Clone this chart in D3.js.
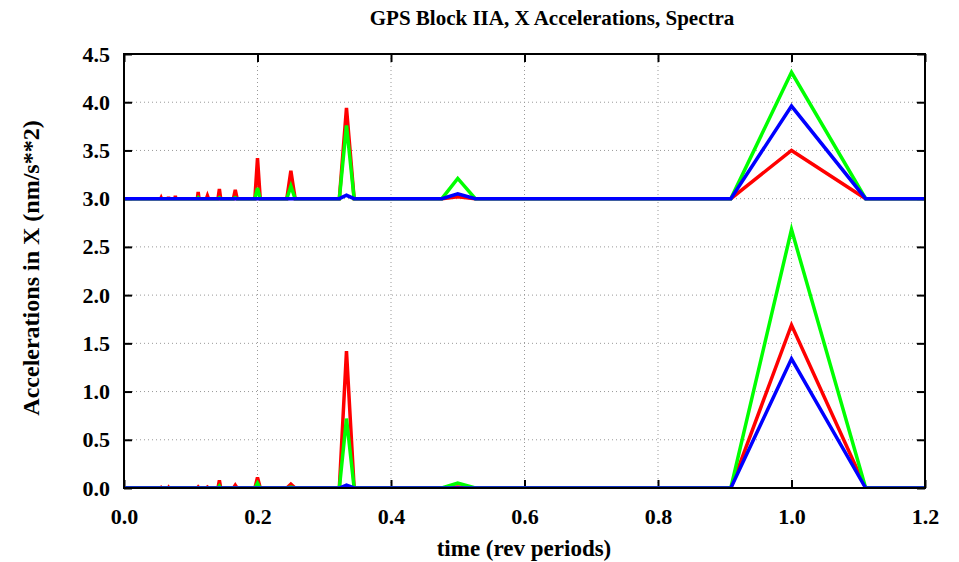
<!DOCTYPE html>
<html>
<head>
<meta charset="utf-8">
<script src="https://cdn.jsdelivr.net/npm/d3@7"></script>
<style>
	body { margin: 0; background: #fff; }
	text { font-family: "Liberation Serif", "Times New Roman", serif; font-weight: bold; fill: #000; }
</style>
</head>
<body>
<div id="chart"></div>
<script>
/*global d3*/

// periods (rev) of the spectral samples: harmonic peaks and their neighbours
const periods = [0.0, 0.0549, 0.0556, 0.0562, 0.0662, 0.0667, 0.0671, 0.0763, 0.0769, 0.0775,
	0.1099, 0.1111, 0.1124, 0.1235, 0.125, 0.1266, 0.1408, 0.1429, 0.1449,
	0.1639, 0.1667, 0.1695, 0.1961, 0.2, 0.2041, 0.2439, 0.25, 0.2564,
	0.3226, 0.3333, 0.3448, 0.4762, 0.5, 0.5263, 0.9091, 1.0, 1.1111, 1.25];

// upper spectra (drawn shifted by topOffset)
const topOffset = 3.0;
const topRed   = [0, 0, 0.01, 0, 0, 0.02, 0, 0, 0.03, 0, 0, 0.07, 0, 0, 0.03, 0, 0, 0.10, 0,
	0, 0.09, 0, 0, 0.42, 0, 0, 0.29, 0, 0, 0.94, 0, 0, 0.02, 0, 0, 0.50, 0, 0];
const topGreen = [0, 0, 0, 0, 0, 0, 0, 0, 0, 0, 0, 0.01, 0, 0, 0, 0, 0, 0.01, 0,
	0, 0.01, 0, 0, 0.11, 0, 0, 0.13, 0, 0, 0.76, 0, 0, 0.21, 0, 0, 1.31, 0, 0];
const topBlue  = [0, 0, 0, 0, 0, 0, 0, 0, 0, 0, 0, 0, 0, 0, 0, 0, 0, 0, 0,
	0, 0, 0, 0, 0, 0, 0, 0, 0, 0, 0.035, 0, 0, 0.05, 0, 0, 0.96, 0, 0];

// lower spectra
const botRed   = [0, 0, 0.005, 0, 0, 0.005, 0, 0, 0, 0, 0, 0.01, 0, 0, 0.01, 0, 0, 0.08, 0,
	0, 0.03, 0, 0, 0.11, 0, 0, 0.04, 0, 0, 1.42, 0, 0, 0.01, 0, 0, 1.69, 0, 0];
const botGreen = [0, 0, 0, 0, 0, 0, 0, 0, 0, 0, 0, 0, 0, 0, 0, 0, 0, 0.02, 0,
	0, 0, 0, 0, 0.05, 0, 0, 0.01, 0, 0, 0.72, 0, 0, 0.05, 0, 0, 2.68, 0, 0];
const botBlue  = [0, 0, 0, 0, 0, 0, 0, 0, 0, 0, 0, 0, 0, 0, 0, 0, 0, 0, 0,
	0, 0, 0, 0, 0, 0, 0, 0, 0, 0, 0.03, 0, 0, 0, 0, 0, 1.34, 0, 0];

const xTicks = [0.0, 0.2, 0.4, 0.6, 0.8, 1.0, 1.2];
const yTicks = [0.0, 0.5, 1.0, 1.5, 2.0, 2.5, 3.0, 3.5, 4.0, 4.5];

let margin = { top: 54, right: 34, bottom: 74, left: 124 },
	width = 959 - margin.left - margin.right,
	height = 562 - margin.top - margin.bottom;

let svg = d3.select("#chart")
	.append("svg")
	.attr("width", 959)
	.attr("height", 562);

let g = svg.append("g")
	.attr("transform", "translate(" + margin.left + "," + margin.top + ")");

let x = d3.scaleLinear().domain([0, 1.2]).range([0, width]);
let y = d3.scaleLinear().domain([0, 4.5]).range([height, 0]);

// grid
g.selectAll(".gx")
	.data(xTicks.slice(1, -1))
	.enter().append("line")
	.attr("x1", d => x(d)).attr("x2", d => x(d))
	.attr("y1", 0).attr("y2", height)
	.attr("stroke", "#999").attr("stroke-width", 1)
	.attr("stroke-dasharray", "1,3");

g.selectAll(".gy")
	.data(yTicks.slice(1, -1))
	.enter().append("line")
	.attr("x1", 0).attr("x2", width)
	.attr("y1", d => y(d)).attr("y2", d => y(d))
	.attr("stroke", "#999").attr("stroke-width", 1)
	.attr("stroke-dasharray", "1,3");

// axes with inward ticks, mirrored
let axisStyle = function (sel) {
	sel.select(".domain").remove();
	sel.selectAll(".tick line").attr("stroke", "#000").attr("stroke-width", 2);
	sel.selectAll(".tick text")
		.style("font-family", '"Liberation Serif", serif')
		.style("font-weight", "bold")
		.style("font-size", "22px")
		.attr("fill", "#000");
};

g.append("g")
	.attr("transform", "translate(0," + height + ")")
	.call(d3.axisBottom(x).tickValues(xTicks).tickFormat(d3.format(".1f")).tickSizeInner(-8).tickPadding(20))
	.call(axisStyle);

g.append("g")
	.call(d3.axisTop(x).tickValues(xTicks).tickFormat("").tickSizeInner(-8))
	.call(axisStyle);

g.append("g")
	.call(d3.axisLeft(y).tickValues(yTicks).tickFormat(d3.format(".1f")).tickSizeInner(-8).tickPadding(14))
	.call(axisStyle);

g.append("g")
	.attr("transform", "translate(" + width + ",0)")
	.call(d3.axisRight(y).tickValues(yTicks).tickFormat("").tickSizeInner(-8))
	.call(axisStyle);

// clip
svg.append("clipPath").attr("id", "clip")
	.append("rect").attr("width", width).attr("height", height + 3).attr("y", -3);

let plot = g.append("g").attr("clip-path", "url(#clip)");

let line = function (vals, offset) {
	return d3.line()
		.x((d, i) => x(periods[i]))
		.y(d => y(d + offset))(vals);
};

let series = [
	{ vals: botRed, off: 0, color: "#ff0000" },
	{ vals: botGreen, off: 0, color: "#00ff00" },
	{ vals: botBlue, off: 0, color: "#0000ff" },
	{ vals: topRed, off: topOffset, color: "#ff0000" },
	{ vals: topGreen, off: topOffset, color: "#00ff00" },
	{ vals: topBlue, off: topOffset, color: "#0000ff" }
];

plot.selectAll(".series")
	.data(series)
	.enter().append("path")
	.attr("d", d => line(d.vals, d.off))
	.attr("fill", "none")
	.attr("stroke", d => d.color)
	.attr("stroke-width", 3.5)
	.attr("stroke-linejoin", "miter");

// frame
g.append("rect")
	.attr("width", width).attr("height", height)
	.attr("fill", "none").attr("stroke", "#000").attr("stroke-width", 2);

// titles
svg.append("text")
	.attr("x", 552).attr("y", 25)
	.attr("text-anchor", "middle")
	.style("font-size", "21px")
	.text("GPS Block IIA, X Accelerations, Spectra");

svg.append("text")
	.attr("x", 524).attr("y", 556)
	.attr("text-anchor", "middle")
	.style("font-size", "23px")
	.text("time (rev periods)");

svg.append("text")
	.attr("transform", "translate(39," + (margin.top + height / 2 - 3) + ") rotate(-90)")
	.attr("text-anchor", "middle")
	.style("font-size", "24px")
	.text("Accelerations in X (nm/s**2)");
</script>
</body>
</html>
